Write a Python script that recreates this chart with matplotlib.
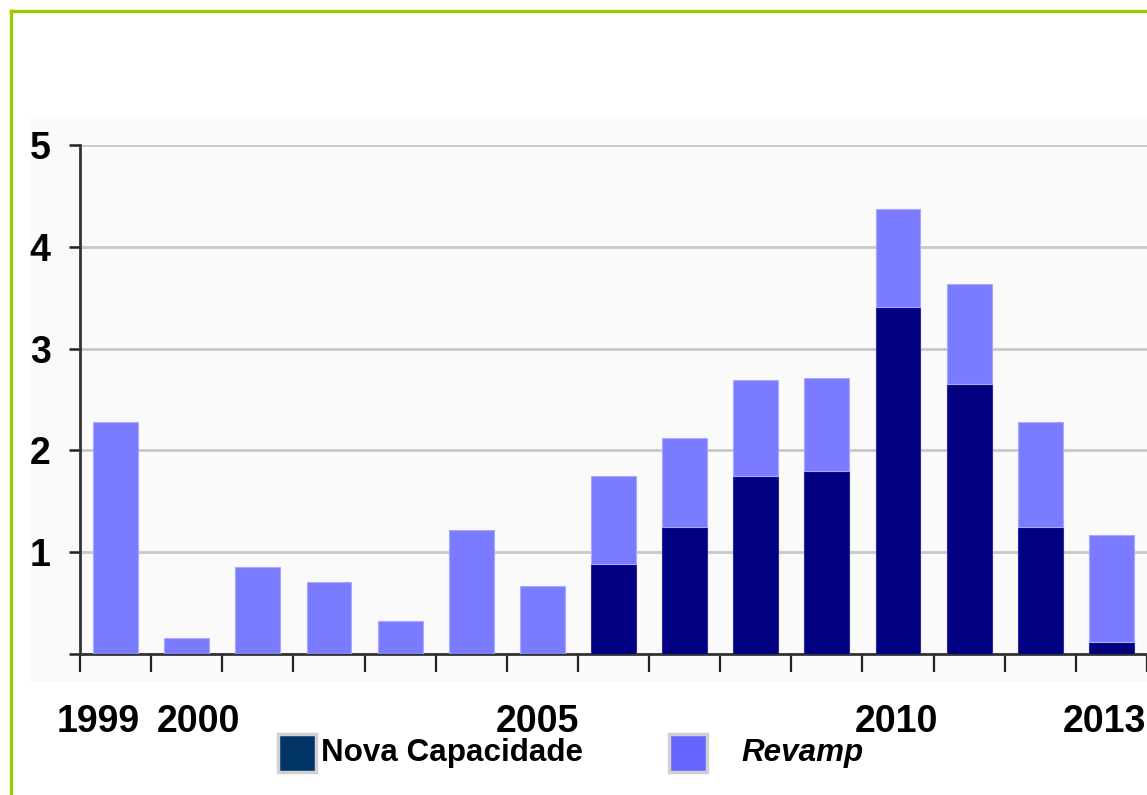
import matplotlib
matplotlib.use("Agg")
import matplotlib.pyplot as plt
import matplotlib.transforms as mtransforms
from matplotlib.patches import Rectangle
from matplotlib.lines import Line2D
import numpy as np

# capacity added per year (stacked: new capacity + revamp)
years = ["1999", "2000", "2001", "2002", "2003", "2004", "2005", "2006",
         "2007", "2008", "2009", "2010", "2011", "2012", "2013"]
nova = [0, 0, 0, 0, 0, 0, 0, 0.88, 1.25, 1.75, 1.80, 3.41, 2.65, 1.25, 0.12]
total = [2.28, 0.16, 0.85, 0.71, 0.32, 1.22, 0.67, 1.75, 2.12, 2.69, 2.71,
         4.37, 3.63, 2.28, 1.17]
revamp = [t - n for t, n in zip(total, nova)]
shown_years = ["1999", "2000", "2005", "2010", "2013"]
y_ticks = [0, 1, 2, 3, 4, 5]
y_labels = ["", "1", "2", "3", "4", "5"]

plt.rcParams["font.family"] = ["Liberation Sans", "DejaVu Sans"]

W, H = 1147, 795
fig = plt.figure(figsize=(W / 100, H / 100), dpi=100)
fig.patch.set_facecolor("white")

# light plot-area background
fig.patches.append(Rectangle((30 / W, 1 - 682 / H), (W - 30) / W, (682 - 117) / H,
                             transform=fig.transFigure, facecolor="#fafafa",
                             edgecolor="none", zorder=-1))

# green frame on the left and top
fig.lines.append(Line2D([11 / W, 11 / W], [0, 1 - 11 / H], transform=fig.transFigure,
                        color="#99cc00", lw=2.4))
fig.lines.append(Line2D([11 / W, 1], [1 - 11 / H, 1 - 11 / H], transform=fig.transFigure,
                        color="#99cc00", lw=2.4))

ax = fig.add_axes([80 / W, 1 - 654 / H, (W - 80) / W, (654 - 145) / H])
ax.set_facecolor("none")
ax.set_zorder(2)

x = np.arange(len(years))
ax.bar(x, nova, width=0.63, color="#000080", edgecolor="#2a2a9a", linewidth=0.8, zorder=3)
ax.bar(x, revamp, width=0.63, bottom=nova, color="#7b7bff", edgecolor="#a8a8ff",
       linewidth=0.8, zorder=3)

ax.set_xlim(-0.5, len(years) - 0.5)
ax.set_ylim(0, 5)

ax.set_yticks(y_ticks)
ax.set_yticklabels(y_labels, fontsize=27, fontweight="bold")
ax.yaxis.grid(True, color="#c8c8c8", lw=2)
ax.set_axisbelow(True)
ax.tick_params(axis="y", length=8, width=1.8, color="#222222", pad=13)

pos = [years.index(y) for y in shown_years]
ax.set_xticks(pos)
ax.set_xticklabels(shown_years, fontsize=27, fontweight="bold")
ax.set_xticks(np.arange(len(years) + 1) - 0.5, minor=True)
ax.tick_params(axis="x", which="major", length=0, pad=36)
ax.tick_params(axis="x", which="minor", length=13, width=1.6, color="#222222")

# nudge the first two year labels apart
shifts = [-0.17, 0.12, -0.05, -0.02, -0.07]
for lbl, dx in zip(ax.get_xticklabels(), shifts):
    lbl.set_transform(lbl.get_transform() + mtransforms.ScaledTranslation(dx, 0, fig.dpi_scale_trans))

for s in ["top", "right"]:
    ax.spines[s].set_visible(False)
for s in ["left", "bottom"]:
    ax.spines[s].set_color("#333333")
    ax.spines[s].set_linewidth(2)

# legend
def legend_box(x0, color):
    fig.patches.append(Rectangle((x0 / W, 1 - 772 / H), 38 / W, 38 / H,
                                 transform=fig.transFigure, facecolor=color,
                                 edgecolor="#d0d0d0", linewidth=2.5))

legend_box(278, "#003366")
legend_box(669, "#6666ff")
fig.text(321 / W, 1 - 753 / H, "Nova Capacidade", fontsize=22.6, fontweight="bold",
         va="center", ha="left")
fig.text(741 / W, 1 - 753 / H, "Revamp", fontsize=22.6, fontweight="bold",
         fontstyle="italic", va="center", ha="left")

fig.savefig("out.png", dpi=100)
